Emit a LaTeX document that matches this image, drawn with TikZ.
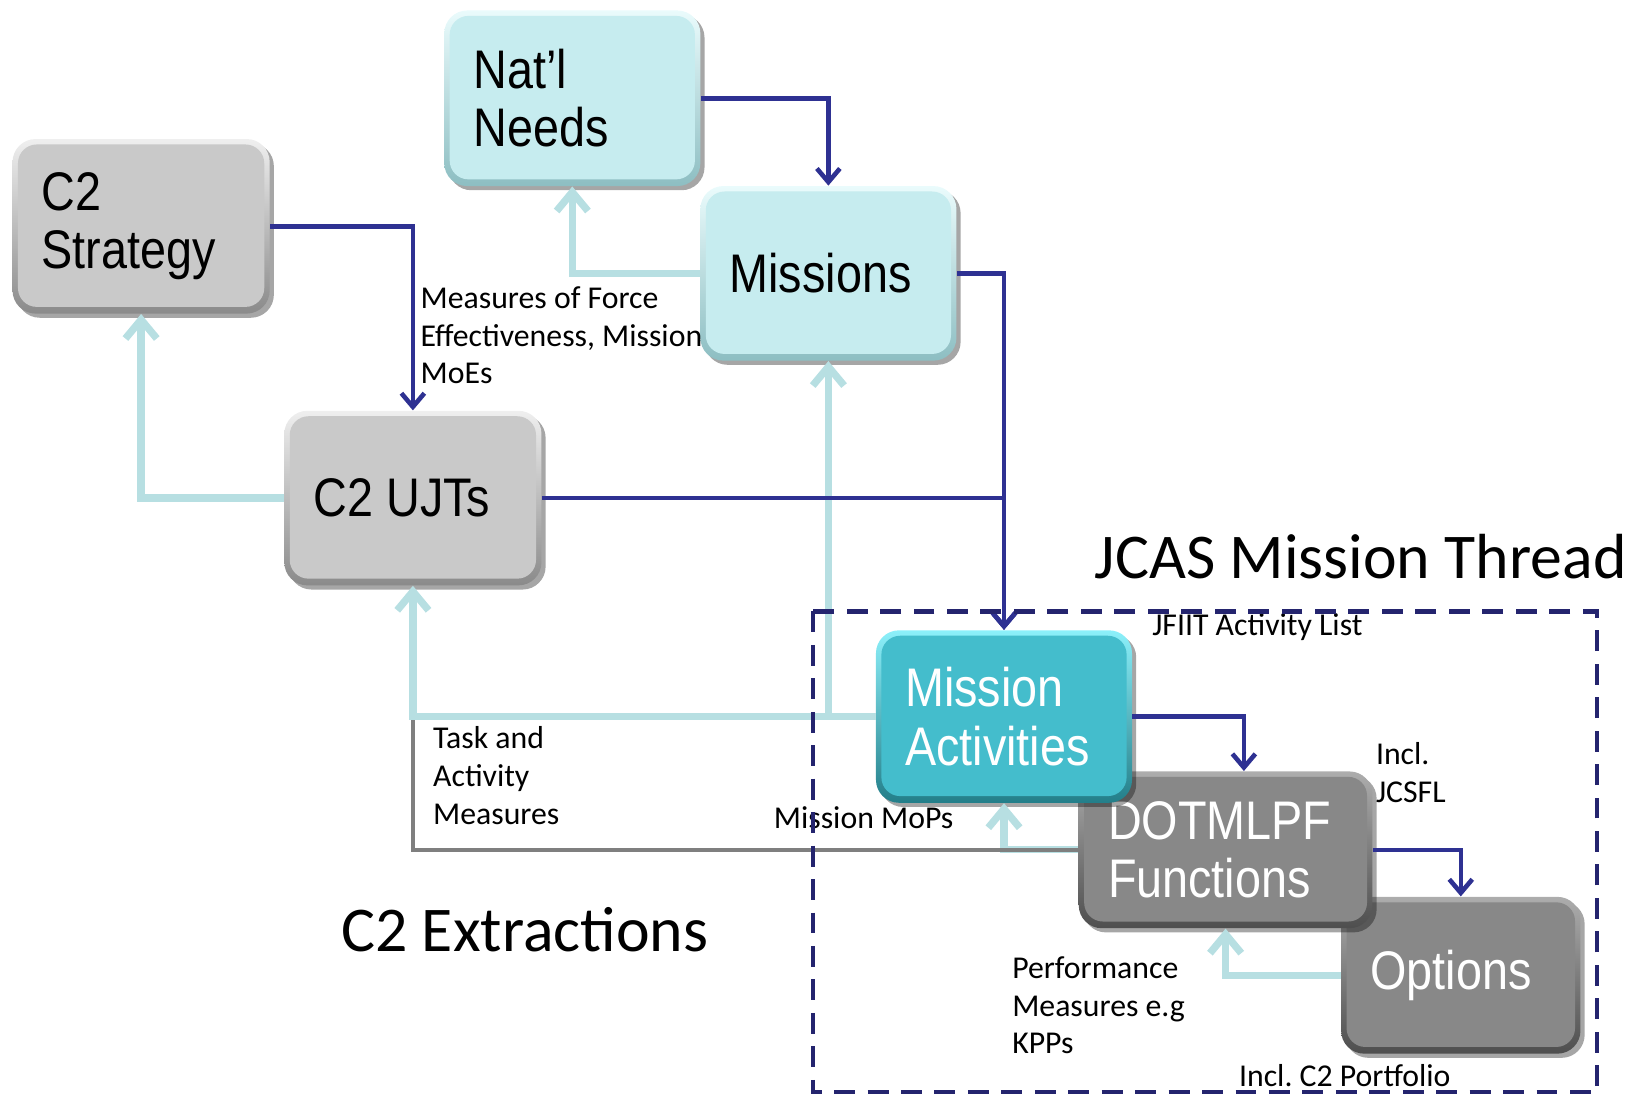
\documentclass[tikz,border=0pt]{standalone}
\usepackage{fontspec}
\setmainfont{Carlito}
\newfontfamily\boxfont[FakeStretch=0.86]{Liberation Sans}
\usetikzlibrary{arrows.meta,shadows}

\definecolor{paleTop}{HTML}{EAFBFC}
\definecolor{paleC}{HTML}{C6ECEF}
\definecolor{paleBot}{HTML}{8DBEC2}
\definecolor{greyTop}{HTML}{EFEFEF}
\definecolor{greyF}{HTML}{C9C9C9}
\definecolor{greyBot}{HTML}{8A8A8A}
\definecolor{tealTop}{HTML}{8CF0FA}
\definecolor{tealF}{HTML}{44BDCC}
\definecolor{tealBot}{HTML}{237E89}
\definecolor{darkTop}{HTML}{ADADAD}
\definecolor{darkF}{HTML}{888888}
\definecolor{darkBot}{HTML}{4E4E4E}
\definecolor{flowBlue}{HTML}{2E3192}
\definecolor{backCyan}{HTML}{B7DFE2}
\definecolor{linkGrey}{HTML}{7F7F7F}
\definecolor{threadNavy}{HTML}{24246E}

\frenchspacing
\begin{document}
\begin{tikzpicture}[x=0.5pt,y=-0.5pt,
  block/.style={rounded corners=11pt, inner xsep=14pt, inner ysep=0pt,
    text width=#1, align=flush left, anchor=center,
    font=\boxfont\fontsize{26}{28}\selectfont,
    drop shadow={shadow xshift=2pt, shadow yshift=-2pt, opacity=0.35, fill=black}},
  bevel/.style n args={3}{shade, top color=#1, bottom color=#3,
    path picture={\fill[#2, rounded corners=9pt]
      ([shift={(2.6pt,-2.6pt)}]path picture bounding box.north west) rectangle
      ([shift={(-2.6pt,3.2pt)}]path picture bounding box.south east);}},
  pale/.style={bevel={paleTop}{paleC}{paleBot}},
  grey/.style={bevel={greyTop}{greyF}{greyBot}},
  teal/.style={bevel={tealTop}{tealF}{tealBot}, text=white},
  dark/.style={bevel={darkTop}{darkF}{darkBot}, text=white},
  flow/.style={draw=flowBlue, line width=2.2pt, -{Straight Barb[length=6.5pt,width=11pt]}},
  back/.style={draw=backCyan, line width=3.5pt, -{Straight Barb[length=9pt,width=15pt]}},
  link/.style={draw=linkGrey, line width=1.9pt},
  lbl/.style={font=\fontsize{15.2}{18}\selectfont, inner sep=0pt, align=flush left, anchor=west},
  heading/.style={font=\fontsize{30.5}{36}\selectfont, inner sep=0pt, anchor=west}
]
\useasboundingbox (0,0) rectangle (1568,1049);

% boxes
\node[block=94.5pt, minimum height=84pt, pale] (natl) at (547.5,94) {Nat’l\\Needs};
\node[block=94.5pt, minimum height=83.5pt, pale] (mis) at (792.5,261.5) {Missions};
\node[block=95pt, minimum height=83.5pt, grey] (strat) at (135,216.5) {C2\\Strategy};
\node[block=95pt, minimum height=83.5pt, grey] (ujt) at (395,476.5) {C2 UJTs};
\node[block=86.5pt, minimum height=75pt, dark] (opt) at (1397.5,933) {Options};
\node[block=112.5pt, minimum height=75pt, dark] (dot) at (1172.5,813) {DOTMLPF\\Functions};
\node[block=94.5pt, minimum height=82.5pt, teal] (ma) at (960.5,685.5) {Mission\\Activities};

% feedback paths (pale)
\draw[back] (dot.west) -| (ma.south);
\draw[link] (dot.west) -| (ujt.south |- ma.west);
\draw[back] (ma.west) -| (ujt.south);
\draw[back] (ma.west) -| (mis.south);
\draw[back] (mis.west) -| (natl.south);
\draw[back] (ujt.west) -| (strat.south);
\draw[back] (opt.west) -| (dot.south);

% forward flows
\draw[flow] (natl.east) -| (mis.north);
\draw[flow] (strat.east) -| (ujt.north);
\draw[flow] (mis.east) -| (ma.north);
\draw[flow] (ujt.east) -| (ma.north);
\draw[flow] (ma.east) -| ([xshift=8.75pt]dot.north);
\draw[flow] (dot.east) -| (opt.north);

% labels
\node[lbl] (lmoe) at (402,321) {Measures of Force\\Effectiveness, Mission\\MoEs};
\node[lbl] (ljfiit) at (1102,600) {JFIIT Activity List};
\node[lbl] (ljcsfl) at (1316,739) {Incl.\\JCSFL};
\node[lbl] (ltask) at (414,742) {Task and\\Activity\\Measures};
\node[lbl] (lmops) at (740,782) {Mission MoPs};
\node[lbl] (lperf) at (968,962) {Performance\\Measures e.g\\KPPs};
\node[lbl] (lport) at (1185,1029) {Incl. C2 Portfolio};

% mission thread boundary
\draw[threadNavy, line width=2pt, dash pattern=on 10pt off 6pt] (778,585) rectangle (1528,1045);

\node[heading] (hjcas) at (1047,532) {JCAS Mission Thread};
\node[heading] (hc2) at (326,889) {C2 Extractions};
\end{tikzpicture}
\end{document}
